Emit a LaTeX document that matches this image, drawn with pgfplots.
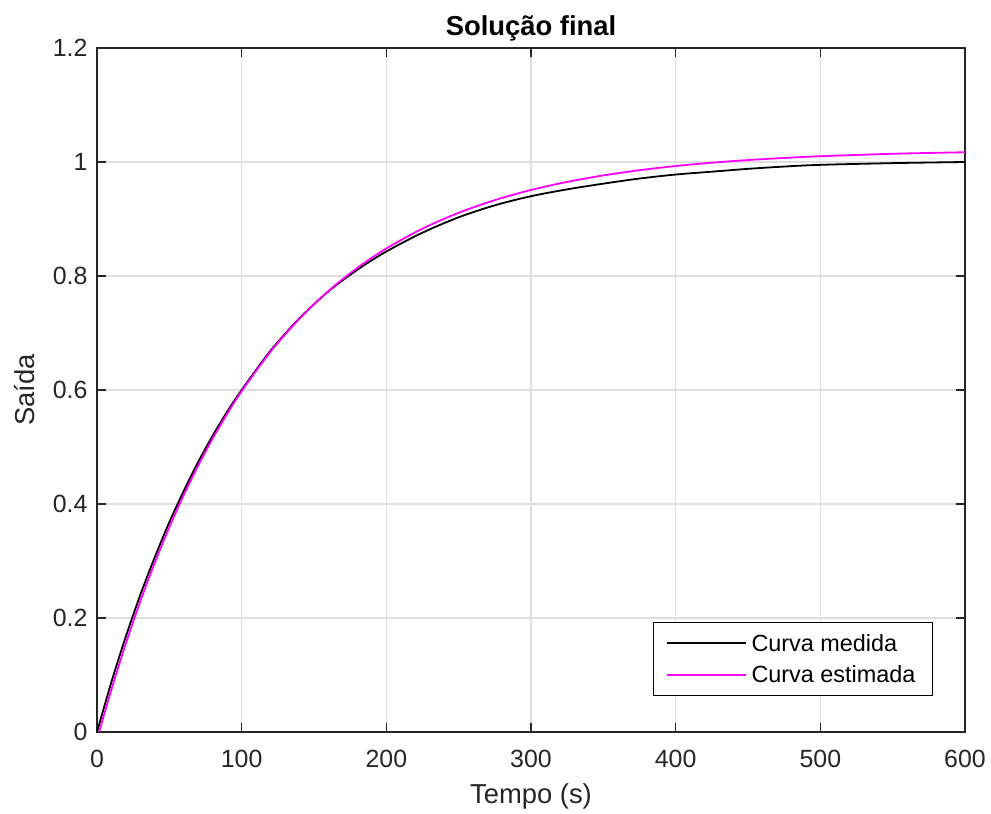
\documentclass[border=0pt]{standalone}
\usepackage{fontspec}
\setmainfont{Liberation Sans}
\usepackage{pgfplots}
\pgfplotsset{compat=1.18}
\definecolor{axgray}{RGB}{38,38,38}
\definecolor{gridgray}{RGB}{223,223,223}
\definecolor{magc}{RGB}{255,0,255}
\begin{document}
\begin{tikzpicture}
\begin{axis}[
  at={(0,0)}, anchor=south west, name=ax,
  scale only axis, width=868bp, height=684bp,
  xmin=0, xmax=600, ymin=0, ymax=1.2,
  xtick={0,100,200,300,400,500,600},
  xticklabels={0,100,200,300,400,500,600},
  ytick={0,0.2,0.4,0.6,0.8,1,1.2},
  yticklabels={0,0.2,0.4,0.6,0.8,1,1.2},
  /pgf/number format/assume math mode=true,
  grid=major, major grid style={gridgray, line width=1.2bp},
  axis line style={axgray, line width=1.3bp},
  tick style={axgray, line width=1.3bp},
  major tick length=9bp,
  tick align=inside,
  ticklabel style={font=\fontsize{25}{30}\selectfont, text=axgray},
  xticklabel style={yshift=-15bp},
  yticklabel style={xshift=-6bp},
  xlabel={Tempo (s)}, ylabel={Saída},
  xlabel style={yshift=-9bp},
  ylabel style={yshift=11bp},
  label style={font=\fontsize{27.5}{33}\selectfont, text=axgray},
  title={Solução final},
  title style={font=\fontsize{27.5}{33}\selectfont\bfseries, text=black, yshift=-3bp},
  legend cell align=left,
  legend style={at={(0.9631,0.0526)}, anchor=south east, draw=black, line width=1bp,
    font=\fontsize{23.5}{28}\selectfont, fill=white,
    inner xsep=12bp, inner ysep=9.5bp, row sep=9bp,
    nodes={inner xsep=5bp, inner ysep=2bp}},
  legend image code/.code={\draw[#1, line width=1.8bp] (0bp,0bp) -- (79bp,0bp);},
]
\addplot[black, line width=1.8bp, smooth] coordinates {
(0,0) (10,0.088) (20,0.168) (30,0.241) (40,0.307) (50,0.368) (60,0.423) (70,0.474)
(80,0.520) (90,0.562) (100,0.600) (120,0.669) (140,0.726) (160,0.773) (180,0.811)
(200,0.843) (225,0.876) (250,0.903) (275,0.924) (300,0.940) (325,0.952) (350,0.962)
(375,0.971) (400,0.978) (425,0.983) (450,0.988) (475,0.992) (500,0.995) (550,0.998) (600,1.000)
};
\addlegendentry{Curva medida}
\addplot[magc, line width=1.8bp, smooth] coordinates {
(1.5,0) (10,0.0747) (20,0.1557) (30,0.2297) (40,0.2973) (50,0.3592) (60,0.4158) (70,0.4676)
(80,0.5150) (90,0.5582) (100,0.5979) (120,0.6673) (140,0.7252) (160,0.7738) (180,0.8144)
(200,0.8483) (225,0.8831) (250,0.9109) (275,0.9331) (300,0.9509) (325,0.9651) (350,0.9765)
(375,0.9856) (400,0.9929) (425,0.9987) (450,1.0034) (475,1.0071) (500,1.0101) (550,1.0144) (600,1.0171)
};
\addlegendentry{Curva estimada}
\end{axis}
\pgfresetboundingbox
\path[use as bounding box] (-97bp,-82bp) rectangle (894bp,732bp);
\end{tikzpicture}
\end{document}
